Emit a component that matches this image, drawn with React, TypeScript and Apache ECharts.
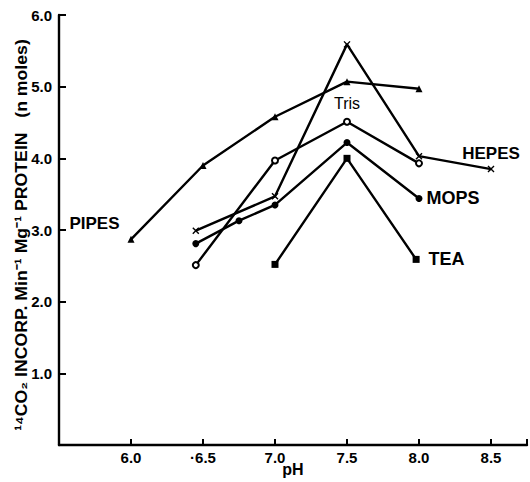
import React, { useEffect, useRef } from "react";
import * as echarts from "echarts";

const pipesPH = [6.0, 6.5, 7.0, 7.5, 8.0];
const pipesRate = [2.87, 3.9, 4.58, 5.07, 4.97];
const trisPH = [6.45, 7.0, 7.5, 8.0];
const trisRate = [2.51, 3.97, 4.51, 3.93];
const hepesPH = [6.45, 7.0, 7.5, 8.0, 8.5];
const hepesRate = [2.99, 3.47, 5.59, 4.03, 3.85];
const mopsPH = [6.45, 6.75, 7.0, 7.5, 8.0];
const mopsRate = [2.81, 3.13, 3.35, 4.22, 3.44];
const teaPH = [7.0, 7.5, 7.98];
const teaRate = [2.52, 4.0, 2.59];

const xTickLabels: Record<string, string> = {
  "6": "6.0",
  "6.5": "·6.5",
  "7": "7.0",
  "7.5": "7.5",
  "8": "8.0",
  "8.5": "8.5",
};
const yTitle = "¹⁴CO₂ INCORP. Min⁻¹ Mg⁻¹ PROTEIN   (n moles)";

const FONT = "Liberation Sans";
const crossPath =
  "path://M0,1.4L1.4,0L5,3.6L8.6,0L10,1.4L6.4,5L10,8.6L8.6,10L5,6.4L1.4,10L0,8.6L3.6,5Z";

function pts(xs: number[], ys: number[], labelIndex: number, label: any) {
  return xs.map((x, i) =>
    i === labelIndex ? { value: [x, ys[i]], label: { show: true, ...label } } : [x, ys[i]]
  );
}

const labelBase = {
  color: "#000",
  fontFamily: FONT,
  fontWeight: "bold",
  fontSize: 17,
};

export default function App() {
  const ref = useRef<HTMLDivElement>(null);
  useEffect(() => {
    if (!ref.current) return;
    const chart = echarts.init(ref.current, null, { renderer: "svg" });
    const lineStyle = { color: "#000", width: 2.4 };
    chart.setOption({
      animation: false,
      backgroundColor: "#fff",
      grid: { left: 59, right: 3, top: 15, bottom: 30, containLabel: false },
      xAxis: {
        type: "value",
        min: 5.5,
        max: 8.75,
        interval: 0.5,
        name: "pH",
        nameLocation: "middle",
        nameGap: 16,
        nameMoveOverlap: false,
        nameTextStyle: { color: "#000", fontFamily: FONT, fontWeight: "bold", fontSize: 16 },
        axisLine: { lineStyle: { color: "#000", width: 2.4 } },
        axisTick: { inside: true, length: 6, lineStyle: { color: "#000", width: 2 } },
        axisLabel: {
          color: "#000",
          fontFamily: FONT,
          fontWeight: "bold",
          fontSize: 15,
          margin: 5,
          formatter: (v: number) => xTickLabels[String(v)] ?? "",
        },
        splitLine: { show: false },
      },
      yAxis: {
        type: "value",
        min: 0,
        max: 6,
        interval: 1,
        axisLine: { show: true, lineStyle: { color: "#000", width: 2.4 } },
        axisTick: { show: true, inside: true, length: 7, lineStyle: { color: "#000", width: 2 } },
        axisLabel: {
          color: "#000",
          fontFamily: FONT,
          fontWeight: "bold",
          fontSize: 15,
          margin: 7,
          formatter: (v: number) => (v === 0 ? "" : v.toFixed(1)),
        },
        splitLine: { show: false },
      },
      graphic: [
        {
          type: "text",
          x: 21,
          y: 235,
          rotation: Math.PI / 2,
          scaleX: 1.04,
          style: {
            text: yTitle,
            fill: "#000",
            font: `bold 17px "${FONT}"`,
            align: "center",
            verticalAlign: "middle",
          },
        },
      ],
      series: [
        {
          name: "PIPES",
          type: "line",
          data: pts(pipesPH, pipesRate, 0, {
            ...labelBase,
            formatter: "PIPES",
            position: "left",
            distance: 8,
            offset: [0, -16],
          }),
          lineStyle,
          symbol: "triangle",
          symbolSize: 7,
          itemStyle: { color: "#000" },
        },
        {
          name: "Tris",
          type: "line",
          data: pts(trisPH, trisRate, 2, {
            ...labelBase,
            fontWeight: "normal",
            fontSize: 16,
            formatter: "Tris",
            position: "top",
            distance: 6,
          }),
          lineStyle,
          symbol: "emptyCircle",
          symbolSize: 6,
          itemStyle: { color: "#000", borderWidth: 1.5 },
        },
        {
          name: "HEPES",
          type: "line",
          data: pts(hepesPH, hepesRate, 4, {
            ...labelBase,
            formatter: "HEPES",
            position: "top",
            distance: 4,
          }),
          lineStyle,
          symbol: crossPath,
          symbolSize: 7,
          itemStyle: { color: "#000" },
        },
        {
          name: "MOPS",
          type: "line",
          data: pts(mopsPH, mopsRate, 4, {
            ...labelBase,
            fontSize: 18,
            formatter: "MOPS",
            position: "right",
            distance: 4,
          }),
          lineStyle,
          symbol: "circle",
          symbolSize: 7,
          itemStyle: { color: "#000" },
        },
        {
          name: "TEA",
          type: "line",
          data: pts(teaPH, teaRate, 2, {
            ...labelBase,
            fontSize: 18,
            formatter: "TEA",
            position: "right",
            distance: 9,
          }),
          lineStyle,
          symbol: "rect",
          symbolSize: 7,
          itemStyle: { color: "#000" },
        },
      ],
    });
    return () => chart.dispose();
  }, []);
  return <div ref={ref} style={{ width: 530, height: 482, position: "absolute", left: 0, top: 0 }} />;
}
